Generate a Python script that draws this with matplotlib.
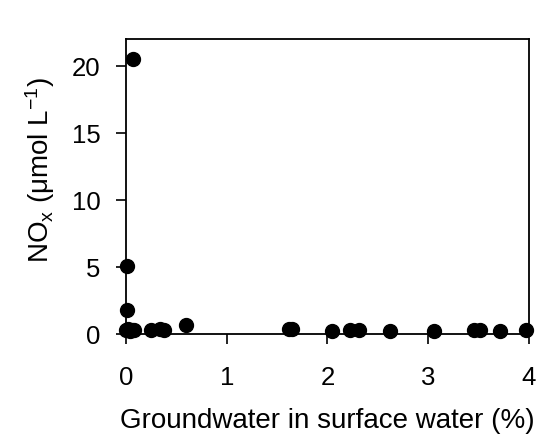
import matplotlib
matplotlib.use("Agg")
import matplotlib.pyplot as plt

plt.rcParams['font.family'] = ['Liberation Sans', 'DejaVu Sans']
plt.rcParams['mathtext.default'] = 'regular'

# groundwater fraction (%) and NOx (umol/L)
gwPercent = [0.07, 0.01, 0.01, 0.0, 0.02, 0.04, 0.06, 0.08, 0.25, 0.34, 0.38, 0.6,
             1.62, 1.65, 2.04, 2.22, 2.31, 2.62, 3.06, 3.45, 3.51, 3.71, 3.97]
noxConc = [20.5, 5.1, 1.8, 0.3, 0.35, 0.25, 0.3, 0.3, 0.3, 0.35, 0.3, 0.65,
           0.35, 0.4, 0.25, 0.3, 0.3, 0.25, 0.25, 0.3, 0.3, 0.25, 0.3]

fig = plt.figure(figsize=(5.36, 4.35), dpi=100)
ax = fig.add_axes([0.235, 0.23, 0.752, 0.678])
ax.scatter(gwPercent, noxConc, s=100, color="black", zorder=3, clip_on=False)
ax.set_xlim(0, 4)
ax.set_ylim(0, 22)
ax.set_xticks([0, 1, 2, 3, 4])
ax.set_yticks([0, 5, 10, 15, 20])
ax.tick_params(direction="out", length=7.5, width=1.2, labelsize=18.5)
ax.tick_params(axis="x", pad=15)
ax.tick_params(axis="y", pad=11)
for sp in ax.spines.values():
    sp.set_linewidth(1.3)
ax.set_xlabel("Groundwater in surface water (%)", fontsize=20, labelpad=13)
ax.set_ylabel("NO$_x$ ($\\mu$mol L$^{-1}$)", fontsize=20)
ax.yaxis.set_label_coords(-0.17, 0.56)

fig.savefig("out.png", dpi=100)
